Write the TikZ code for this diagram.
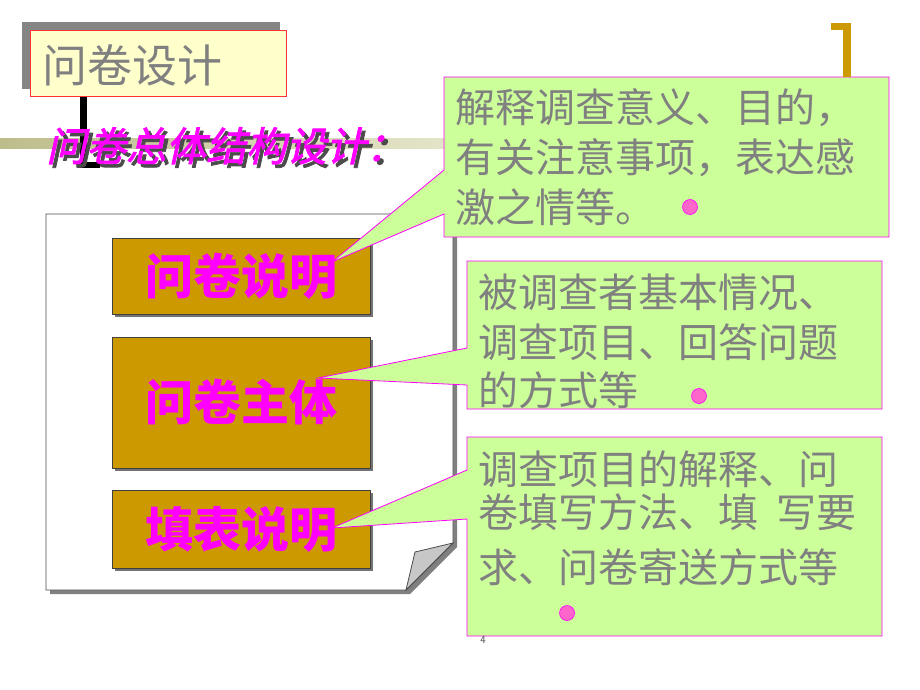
\documentclass[tikz,border=0pt]{standalone}
\usepackage{fontspec}
\newfontfamily\cjk{Noto Sans CJK SC}
\newfontfamily\cjksl[FakeSlant=0.22,FakeBold=2]{Noto Sans CJK SC}
\definecolor{gold}{HTML}{CC9900}
\definecolor{callfill}{HTML}{CCFF99}
\definecolor{mag}{HTML}{FF00FF}
\definecolor{dotpink}{HTML}{FF66CC}
\definecolor{txtgray}{HTML}{808080}
\definecolor{titlefill}{HTML}{FFFFCC}
\definecolor{oliveL}{HTML}{BDBD8C}
\definecolor{oliveR}{HTML}{E4E4C8}
\begin{document}
\begin{tikzpicture}[x=1pt,y=-1pt,
  goldbox/.style={draw=black!75, fill=gold, line width=0.8pt, minimum width=258pt,
     inner sep=0pt, text=mag, font=\cjk\bfseries\fontsize{48}{48}\selectfont},
  boxshadow/.style={fill=black!55},
  callout/.style={draw=mag, fill=callfill, line width=0.8pt},
  calltext/.style={anchor=base west, inner sep=0pt, text=txtgray, font=\cjk\fontsize{40}{40}\selectfont},
  pinkdot/.style={circle, draw=mag, fill=dotpink, line width=0.6pt, minimum size=15pt, inner sep=0pt}
]
\useasboundingbox (0,0) rectangle (920,690);
\fill[white] (0,0) rectangle (920,690);

% olive band
\shade[left color=oliveL, right color=oliveR] (0,138) rectangle (446,148);

% title box
\fill[black!48] (22,22) rectangle (280,89);
\node[draw=red!80, fill=titlefill, line width=0.8pt, minimum width=256pt, minimum height=66pt,
  inner sep=0pt] (title) at (158,63) {};
\node[anchor=base west, inner sep=0pt, text=txtgray, font=\cjk\fontsize{45}{45}\selectfont]
  (titletext) at (42,83) {问卷设计};

% black L
\coordinate (Ltop) at (83.5,97);
\coordinate (Lcorner) at (83.5,165);
\coordinate (Lend) at (100,165);
\draw[line width=6.5pt] (Ltop) -- (Lcorner) -- (Lend);

% subtitle with shadow (one node)
\node[anchor=base west, inner sep=0pt, text=mag, font=\cjksl\fontsize{40}{40}\selectfont]
  (subtitle) at (46,161)
  {\rlap{\hspace{3.5pt}\raisebox{-3.5pt}{\textcolor{black!70}{问卷总体结构设计：}}}问卷总体结构设计：};

% page with folded corner
\fill[black!50] (50,218) -- (457,218) -- (457,547) -- (410,594) -- (50,594) -- cycle;
\draw[black!70, fill=white, line width=0.8pt] (46,214) -- (453,214) -- (453,543) -- (406,590) -- (46,590) -- cycle;
\draw[black!70, fill=black!22, line width=0.8pt] (406,590) -- (415,552) -- (453,543) -- cycle;

% gold boxes (shadows first)
\fill[boxshadow] (115,241) rectangle (373,317);
\fill[boxshadow] (115,340) rectangle (373,471);
\fill[boxshadow] (115,493) rectangle (373,571);
\node[goldbox, minimum height=76pt] (b1) at (241,276) {\raisebox{-3pt}{问卷说明}};
\node[goldbox, minimum height=131pt] (b2) at (241,402.5) {\raisebox{-4pt}{问卷主体}};
\node[goldbox, minimum height=78pt] (b3) at (241,529) {\raisebox{-3pt}{填表说明}};

% callout 1
\coordinate (t1) at (332,262);
\draw[callout] (444,77) -- (889,77) -- (889,237) -- (444,237) -- (444,214) -- (t1) -- (444,170) -- cycle;
\node[calltext] (c1a) at (455,122) {解释调查意义、目的，};
\node[calltext] (c1b) at (455,172) {有关注意事项，表达感};
\node[calltext] (c1c) at (455,222) {激之情等。};
\node[pinkdot] (d1) at (690,207) {};

% callout 2
\coordinate (t2) at (318,378);
\draw[callout] (467,261) -- (882,261) -- (882,409) -- (467,409) -- (467,385) -- (t2) -- (467,348) -- cycle;
\node[calltext] (c2a) at (478,307) {被调查者基本情况、};
\node[calltext] (c2b) at (478,357) {调查项目、回答问题};
\node[calltext] (c2c) at (478,405) {的方式等};
\node[pinkdot] (d2) at (699,396) {};

% callout 3
\coordinate (t3) at (332,528);
\draw[callout] (467,437) -- (882,437) -- (882,636) -- (467,636) -- (467,519) -- (t3) -- (467,470) -- cycle;
\node[calltext] (c3a) at (478,484) {调查项目的解释、问};
\node[calltext] (c3b) at (478,527) {卷填写方法、填\hspace{18pt}写要};
\node[calltext] (c3c) at (478,582) {求、问卷寄送方式等};
\node[pinkdot] (d3) at (567,613) {};

% gold bracket top right
\fill[gold] (831,23) rectangle (851,30);
\fill[gold] (843,23) rectangle (851,77);

% page number
\node[inner sep=0pt, text=black!70, font=\fontsize{11}{11}\selectfont\sffamily] (pnum) at (483,640) {4};
\end{tikzpicture}
\end{document}
